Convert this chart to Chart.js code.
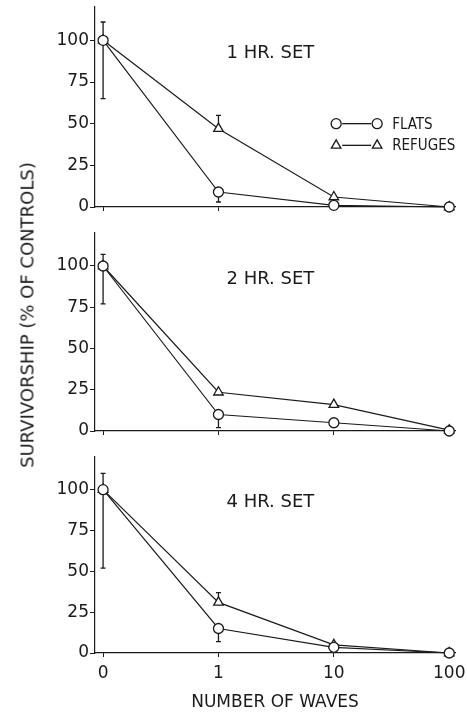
<!DOCTYPE html>
<html>
<head>
<meta charset="utf-8">
<script src="https://cdn.jsdelivr.net/npm/chart.js@4.4.0/dist/chart.umd.min.js"></script>
<style>
  body { margin: 0; background: #fff; width: 467px; height: 713px; position: relative; overflow: hidden; font-family: 'DejaVu Sans', sans-serif; }
  .panel { position: absolute; left: 0; width: 467px; }
  #yTitle { position: absolute; left: 27px; top: 315px; transform: translate(-50%, -50%) rotate(-90deg); white-space: nowrap; font-size: 18px; color: #1a1a1a; }
</style>
</head>
<body>
<div class="panel" style="top:0;height:224px"><canvas id="c1" width="467" height="224"></canvas></div>
<div class="panel" style="top:224px;height:224px"><canvas id="c2" width="467" height="224"></canvas></div>
<div class="panel" style="top:448px;height:265px"><canvas id="c3" width="467" height="265"></canvas></div>
<div id="yTitle">SURVIVORSHIP (% OF CONTROLS)</div>
<script>
const waveLabels = ['0', '1', '10', '100'];
const yTicks = [0, 25, 50, 75, 100];

// 1 hr set
const flats1 = [100, 9, 1, 0];
const flats1Down = [35, 6, null, null];
const refuges1 = [100, 47, 6, 0];
const refuges1Up = [11, 8, null, null];

// 2 hr set
const flats2 = [100, 10, 5, 0];
const flats2Down = [23, 8, null, null];
const refuges2 = [100, 23.5, 16, 0.5];
const refuges2Up = [7, null, null, null];

// 4 hr set
const flats4 = [100, 15, 3.5, 0];
const flats4Down = [48, 8, null, null];
const refuges4 = [100, 31, 5, 0];
const refuges4Up = [10, 6, null, null];

const ink = '#1a1a1a';

const errorBars = {
    id: 'errorBars',
    beforeDatasetsDraw(chart) {
        const { ctx, scales: { x, y } } = chart;
        ctx.save();
        ctx.strokeStyle = ink;
        ctx.lineWidth = 1.3;
        chart.data.datasets.forEach(ds => {
            ds.data.forEach((p, i) => {
                [[ds.errUp, 1], [ds.errDown, -1]].forEach(([arr, sign]) => {
                    if (!arr || arr[i] == null) return;
                    const px = x.getPixelForValue(p.x);
                    const y0 = y.getPixelForValue(p.y);
                    const y1 = y.getPixelForValue(p.y + sign * arr[i]);
                    ctx.beginPath();
                    ctx.moveTo(px, y0);
                    ctx.lineTo(px, y1);
                    ctx.moveTo(px - 2.5, y1);
                    ctx.lineTo(px + 2.5, y1);
                    ctx.stroke();
                });
            });
        });
        ctx.restore();
    }
};

const panelText = {
    id: 'panelText',
    afterDraw(chart, args, opts) {
        const { ctx, scales: { x, y } } = chart;
        ctx.save();
        ctx.fillStyle = ink;
        ctx.font = '18px "DejaVu Sans"';
        ctx.textAlign = 'center';
        ctx.textBaseline = 'middle';
        ctx.fillText(opts.text, x.getPixelForValue(1.45), y.getPixelForValue(92));

        if (opts.legend) {
            const lx = x.getPixelForValue(2.02);
            const rows = [['circle', 'FLATS', 50], ['triangle', 'REFUGES', 37]];
            ctx.font = '15px "DejaVu Sans Condensed", "DejaVu Sans"';
            ctx.textAlign = 'left';
            ctx.strokeStyle = ink;
            ctx.lineWidth = 1.3;
            rows.forEach(([style, name, v]) => {
                const ly = y.getPixelForValue(v);
                ctx.beginPath();
                ctx.moveTo(lx + 6, ly);
                ctx.lineTo(lx + 35, ly);
                ctx.stroke();
                ctx.fillStyle = '#fff';
                [lx, lx + 41].forEach(mx => {
                    Chart.helpers.drawPoint(ctx, { pointStyle: style, radius: style === 'circle' ? 5 : 5.5, borderWidth: 1.3 }, mx, ly);
                });
                ctx.fillStyle = ink;
                ctx.fillText(name, lx + 56, ly + 1);
            });
        }
        ctx.restore();
    }
};

function series(vals) {
    return vals.map((v, i) => ({ x: i, y: v }));
}

function makePanel(id, text, flats, flatsDown, refuges, refugesUp, topPad, axisHeight, showX, legend) {
    const common = {
        borderColor: ink,
        borderWidth: 1.2,
        pointBackgroundColor: '#fff',
        pointBorderColor: ink,
        pointBorderWidth: 1.3,
        tension: 0,
        clip: false
    };
    return new Chart(document.getElementById(id), {
        type: 'line',
        data: {
            datasets: [
                Object.assign({ label: 'Flats', data: series(flats), errDown: flatsDown, pointStyle: 'circle', pointRadius: 5 }, common),
                Object.assign({ label: 'Refuges', data: series(refuges), errUp: refugesUp, pointStyle: 'triangle', pointRadius: 5.5 }, common)
            ]
        },
        options: {
            responsive: false,
            animation: false,
            layout: { padding: { top: topPad, right: 12, bottom: 0, left: 0 } },
            plugins: {
                legend: { display: false },
                tooltip: { enabled: false },
                panelText: { text: text, legend: legend }
            },
            scales: {
                x: {
                    type: 'linear',
                    min: -0.07,
                    max: 3.05,
                    afterBuildTicks: s => { s.ticks = waveLabels.map((l, i) => ({ value: i })); },
                    afterFit: s => { s.height = axisHeight; s.paddingLeft = 0; s.paddingRight = 0; },
                    ticks: {
                        display: showX,
                        color: ink,
                        font: { family: 'DejaVu Sans', size: 17 },
                        padding: 6,
                        maxRotation: 0,
                        callback: v => waveLabels[v]
                    },
                    grid: { drawOnChartArea: false, tickLength: 4, color: ink },
                    border: { color: ink, width: 1.2 },
                    title: {
                        display: showX,
                        text: 'NUMBER OF WAVES',
                        color: ink,
                        font: { family: 'DejaVu Sans', size: 17 },
                        padding: { top: 0, bottom: 0 }
                    }
                },
                y: {
                    min: 0,
                    max: 120,
                    afterBuildTicks: s => { s.ticks = yTicks.map(v => ({ value: v })); },
                    afterFit: s => { s.width = 95; s.paddingTop = 0; s.paddingBottom = 0; },
                    ticks: { color: ink, font: { family: 'DejaVu Sans', size: 17 }, padding: 1 },
                    grid: { drawOnChartArea: false, tickLength: 5, color: ink },
                    border: { color: ink, width: 1.2 }
                }
            }
        },
        plugins: [errorBars, panelText]
    });
}

makePanel('c1', '1 HR. SET', flats1, flats1Down, refuges1, refuges1Up, 7, 17, false, true);
makePanel('c2', '2 HR. SET', flats2, flats2Down, refuges2, refuges2Up, 9, 17, false, false);
makePanel('c3', '4 HR. SET', flats4, flats4Down, refuges4, refuges4Up, 9, 60, true, false);
</script>
</body>
</html>
